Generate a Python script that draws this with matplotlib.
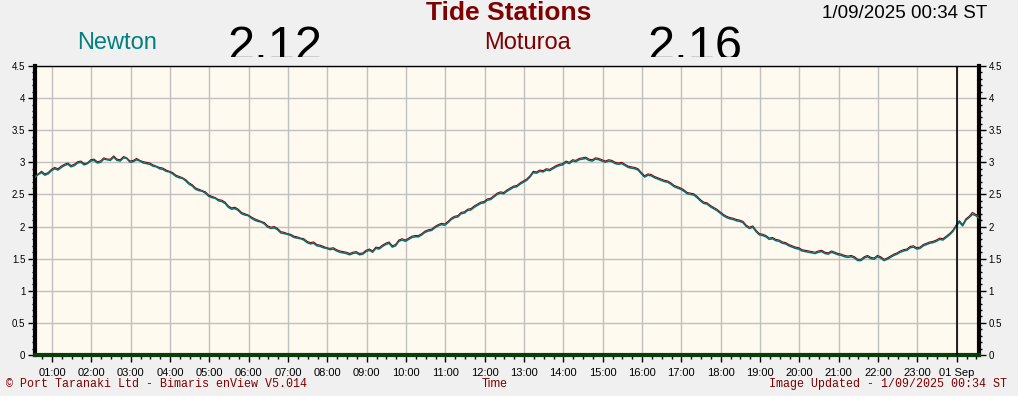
import numpy as np
import matplotlib
matplotlib.use("Agg")
import matplotlib.pyplot as plt
from matplotlib.ticker import MultipleLocator, FixedLocator
from matplotlib.transforms import Bbox, TransformedBbox

# readings every 5 min, 31 Aug 00:34 -> 1 Sep 00:34 (hours since 31 Aug 00:00)
t_start = 34 / 60
step = 5 / 60

newton = [
    2.77, 2.81, 2.84, 2.80, 2.82, 2.87, 2.90, 2.88, 2.92, 2.95, 2.97, 2.93,
    2.95, 2.99, 3.00, 2.96, 2.98, 3.02, 3.03, 2.99, 3.00, 3.05, 3.04, 3.03,
    3.08, 3.03, 3.02, 3.07, 3.06, 3.00, 3.01, 3.04, 3.02, 2.99, 2.98, 2.97,
    2.94, 2.93, 2.90, 2.89, 2.86, 2.85, 2.82, 2.78, 2.76, 2.75, 2.71, 2.66,
    2.63, 2.58, 2.56, 2.55, 2.52, 2.47, 2.45, 2.44, 2.40, 2.39, 2.36, 2.30,
    2.27, 2.28, 2.25, 2.20, 2.18, 2.17, 2.13, 2.10, 2.08, 2.07, 2.04, 1.99,
    1.97, 1.98, 1.95, 1.90, 1.89, 1.88, 1.86, 1.83, 1.82, 1.81, 1.79, 1.75,
    1.73, 1.74, 1.70, 1.69, 1.67, 1.66, 1.64, 1.65, 1.62, 1.60, 1.59, 1.58,
    1.56, 1.58, 1.59, 1.56, 1.57, 1.61, 1.63, 1.60, 1.66, 1.65, 1.69, 1.72,
    1.74, 1.68, 1.70, 1.77, 1.79, 1.77, 1.80, 1.83, 1.84, 1.84, 1.87, 1.91,
    1.93, 1.94, 1.98, 2.01, 2.03, 2.02, 2.06, 2.11, 2.14, 2.15, 2.20, 2.21,
    2.25, 2.26, 2.30, 2.33, 2.36, 2.37, 2.41, 2.42, 2.46, 2.50, 2.52, 2.51,
    2.55, 2.58, 2.61, 2.62, 2.66, 2.69, 2.72, 2.77, 2.84, 2.83, 2.86, 2.85,
    2.88, 2.87, 2.90, 2.93, 2.95, 2.96, 3.00, 2.98, 3.02, 3.01, 3.04, 3.05,
    3.06, 3.03, 3.02, 3.05, 3.04, 3.02, 3.00, 3.02, 3.01, 2.98, 2.97, 2.98,
    2.95, 2.92, 2.91, 2.90, 2.88, 2.82, 2.77, 2.80, 2.79, 2.76, 2.74, 2.72,
    2.70, 2.69, 2.66, 2.62, 2.60, 2.58, 2.55, 2.51, 2.50, 2.49, 2.45, 2.40,
    2.36, 2.35, 2.31, 2.28, 2.25, 2.21, 2.17, 2.14, 2.12, 2.11, 2.09, 2.08,
    2.06, 2.00, 1.97, 1.99, 1.92, 1.87, 1.86, 1.84, 1.80, 1.81, 1.78, 1.77,
    1.74, 1.73, 1.70, 1.68, 1.66, 1.65, 1.62, 1.61, 1.60, 1.59, 1.58, 1.60,
    1.61, 1.58, 1.57, 1.60, 1.58, 1.56, 1.55, 1.53, 1.52, 1.53, 1.51, 1.47,
    1.47, 1.51, 1.53, 1.50, 1.49, 1.53, 1.51, 1.47, 1.49, 1.52, 1.55, 1.57,
    1.60, 1.62, 1.63, 1.67, 1.68, 1.65, 1.66, 1.70, 1.72, 1.74, 1.75, 1.77,
    1.80, 1.79, 1.83, 1.87, 1.92, 2.00, 2.07, 2.01, 2.10, 2.14, 2.19, 2.17,
    2.13,
]

moturoa = [
    2.79, 2.82, 2.86, 2.82, 2.84, 2.89, 2.92, 2.90, 2.94, 2.97, 2.99, 2.95,
    2.97, 3.01, 3.02, 2.98, 2.99, 3.04, 3.05, 3.01, 3.02, 3.07, 3.05, 3.05,
    3.10, 3.05, 3.04, 3.09, 3.07, 3.02, 3.03, 3.06, 3.03, 3.01, 3.00, 2.99,
    2.96, 2.94, 2.92, 2.91, 2.88, 2.86, 2.84, 2.80, 2.78, 2.76, 2.73, 2.68,
    2.65, 2.60, 2.58, 2.56, 2.54, 2.49, 2.47, 2.45, 2.42, 2.41, 2.38, 2.32,
    2.29, 2.30, 2.27, 2.22, 2.20, 2.18, 2.15, 2.12, 2.10, 2.08, 2.06, 2.01,
    1.99, 2.00, 1.97, 1.92, 1.91, 1.89, 1.88, 1.85, 1.84, 1.82, 1.81, 1.77,
    1.75, 1.76, 1.72, 1.71, 1.69, 1.67, 1.66, 1.67, 1.64, 1.62, 1.61, 1.60,
    1.58, 1.60, 1.61, 1.58, 1.59, 1.63, 1.65, 1.62, 1.68, 1.67, 1.71, 1.74,
    1.76, 1.70, 1.72, 1.79, 1.81, 1.79, 1.82, 1.85, 1.86, 1.86, 1.89, 1.93,
    1.95, 1.96, 2.00, 2.03, 2.05, 2.04, 2.08, 2.13, 2.16, 2.17, 2.22, 2.23,
    2.27, 2.28, 2.32, 2.35, 2.38, 2.39, 2.43, 2.44, 2.48, 2.52, 2.54, 2.53,
    2.57, 2.60, 2.63, 2.64, 2.68, 2.71, 2.74, 2.79, 2.86, 2.85, 2.88, 2.87,
    2.90, 2.89, 2.92, 2.95, 2.97, 2.98, 3.02, 3.00, 3.04, 3.03, 3.06, 3.07,
    3.08, 3.05, 3.04, 3.07, 3.06, 3.04, 3.02, 3.04, 3.03, 3.00, 2.99, 3.00,
    2.97, 2.94, 2.93, 2.92, 2.90, 2.84, 2.79, 2.82, 2.81, 2.78, 2.76, 2.74,
    2.72, 2.71, 2.68, 2.64, 2.62, 2.60, 2.57, 2.53, 2.52, 2.51, 2.47, 2.42,
    2.38, 2.37, 2.33, 2.30, 2.27, 2.23, 2.19, 2.16, 2.14, 2.13, 2.11, 2.10,
    2.08, 2.02, 1.99, 2.01, 1.94, 1.89, 1.88, 1.86, 1.82, 1.83, 1.80, 1.79,
    1.76, 1.75, 1.72, 1.70, 1.68, 1.67, 1.64, 1.63, 1.62, 1.61, 1.60, 1.62,
    1.63, 1.60, 1.59, 1.62, 1.60, 1.58, 1.57, 1.55, 1.54, 1.55, 1.53, 1.49,
    1.49, 1.53, 1.55, 1.52, 1.51, 1.55, 1.53, 1.49, 1.51, 1.54, 1.57, 1.59,
    1.62, 1.64, 1.65, 1.69, 1.70, 1.67, 1.68, 1.72, 1.74, 1.76, 1.77, 1.79,
    1.82, 1.81, 1.85, 1.89, 1.94, 2.02, 2.09, 2.03, 2.12, 2.16, 2.22, 2.19,
    2.17,
]

tick_hours = list(range(1, 25))
tick_labels = ['%02d:00' % h for h in range(1, 24)] + ['01 Sep']

hours = t_start + step * np.arange(len(newton))

bg = '#f0f0f0'
plot_bg = '#fffaf0'
maroon = '#800000'
teal = '#008080'
sans = 'Liberation Sans'

fig = plt.figure(figsize=(10.18, 3.96), dpi=100, facecolor=bg)
ax = fig.add_axes([35 / 1018, 41 / 396, 944 / 1018, 289 / 396])
ax.set_facecolor(plot_bg)

ax.plot(hours, moturoa, color=maroon, lw=0.8, zorder=3)
ax.plot(hours, newton, color=teal, lw=1.1, zorder=4)
ax.plot(hours, newton, color='#303030', lw=0.4, alpha=0.5, zorder=5)
ax.axvline(24, color='black', lw=1.2, zorder=6)

ax.set_xlim(t_start, t_start + 24)
ax.set_ylim(0, 4.5)
ax.xaxis.set_major_locator(FixedLocator(tick_hours))
ax.set_xticklabels(tick_labels, fontsize=8, family=sans)
ax.xaxis.set_minor_locator(MultipleLocator(0.25))
ax.yaxis.set_major_locator(MultipleLocator(0.5))
ax.yaxis.set_minor_locator(MultipleLocator(0.1))
ax.yaxis.set_major_formatter(plt.FuncFormatter(lambda v, p: '%g' % v))
ax.tick_params(axis='y', labelsize=7, length=5, width=1, left=True, right=True,
               labelleft=True, labelright=True, pad=2)
ax.tick_params(axis='y', which='minor', length=2, width=1, left=True, right=True)
ax.tick_params(axis='x', length=5, width=1, pad=4)
ax.tick_params(axis='x', which='minor', length=3, width=1)
for lab in ax.get_yticklabels():
    lab.set_family(sans)

ax.grid(True, which='major', color='#c0c0c0', lw=1)
ax.set_axisbelow(True)

for side in ['left', 'right']:
    ax.spines[side].set_linewidth(3)
ax.spines['top'].set_linewidth(1)
ax.spines['bottom'].set_linewidth(3)
ax.spines['bottom'].set_color('#0a3d0a')

fig.text(0.5, 1 - 13 / 396, 'Tide Stations', ha='center', va='center',
         fontsize=19, fontweight='bold', color=maroon, family=sans)
fig.text(117 / 1018, 1 - 43 / 396, 'Newton', ha='center', va='center',
         fontsize=17, color=teal, family=sans)
fig.text(527 / 1018, 1 - 43 / 396, 'Moturoa', ha='center', va='center',
         fontsize=17, color=maroon, family=sans)
fig.text(987 / 1018, 1 - 13 / 396, '1/09/2025 00:34 ST', ha='right', va='center',
         fontsize=13.5, color='black', family=sans)

# big current readings, cut off just above the plot
clip = TransformedBbox(Bbox([[0, 1 - 57 / 396], [1, 1]]), fig.transFigure)
for x, s in [(228, '2.12'), (648, '2.16')]:
    t = fig.text(x / 1018, 1 - 25 / 396, s, ha='left', va='top', fontsize=35,
                 color='black', family=sans)
    t.set_clip_box(clip)
    t.set_clip_on(True)

fig.text(495 / 1018, 1 - 384 / 396, 'Time', ha='center', va='center',
         fontsize=8.5, color=maroon, family=sans)
fig.text(6 / 1018, 1 - 384 / 396, '\u00a9 Port Taranaki Ltd - Bimaris enView V5.014',
         ha='left', va='center', fontsize=8.4, color=maroon, family='Liberation Mono')
fig.text(1007 / 1018, 1 - 384 / 396, 'Image Updated - 1/09/2025 00:34 ST',
         ha='right', va='center', fontsize=8.4, color=maroon, family='Liberation Mono')

fig.savefig('out.png', dpi=100, facecolor=bg)
